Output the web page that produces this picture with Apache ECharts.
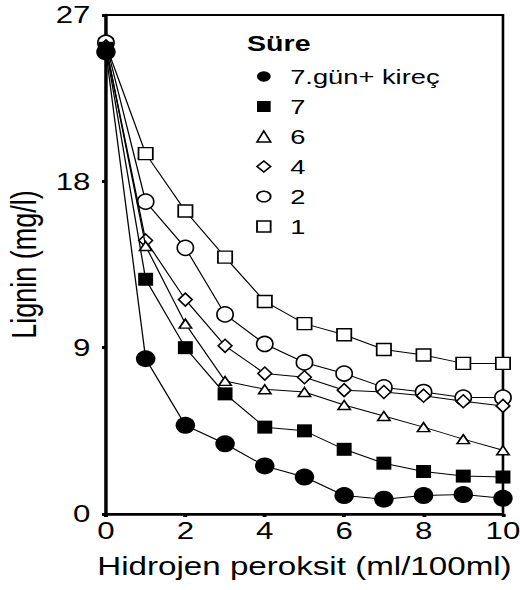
<!DOCTYPE html>
<html>
<head>
<meta charset="utf-8">
<script src="https://cdn.jsdelivr.net/npm/echarts@6/dist/echarts.min.js"></script>
<style>
  html, body { margin: 0; padding: 0; background: #fff; overflow: hidden; }
  /* the figure is drawn 400px wide and stretched horizontally to 520px */
  #chart { position: absolute; left: 0; top: 0; width: 400px; height: 590px;
           transform: scaleX(1.3); transform-origin: 0 0; }
</style>
</head>
<body>
<div id="chart"></div>
<script>
// Hydrogen peroxide dose (ml/100ml)
const peroxide = [0, 1, 2, 3, 4, 5, 6, 7, 8, 9, 10];

// Lignin (mg/l) per treatment time (Süre)
const day7Lime = [25.0, 8.4, 4.8, 3.8, 2.6, 2.0, 1.0, 0.8, 1.0, 1.05, 0.85];
const day7     = [25.2, 12.7, 9.0, 6.5, 4.7, 4.5, 3.5, 2.75, 2.3, 2.05, 2.0];
const day6     = [25.3, 14.5, 10.3, 7.2, 6.75, 6.6, 5.9, 5.3, 4.7, 4.05, 3.45];
const day4     = [25.3, 14.8, 11.6, 9.1, 7.6, 7.4, 6.7, 6.6, 6.4, 6.1, 5.85];
const day2     = [25.5, 16.9, 14.4, 10.8, 9.2, 8.2, 7.6, 6.85, 6.6, 6.3, 6.3];
const day1     = [25.4, 19.5, 16.4, 13.9, 11.5, 10.3, 9.7, 8.9, 8.6, 8.15, 8.15];

const seriesNames = ['7.gün+ kireç', '7', '6', '4', '2', '1'];
const xTicks = [0, 2, 4, 6, 8, 10];
const yTicks = [0, 9, 18, 27];

const FONT = '"Liberation Sans", Arial, sans-serif';

const pairs = vals => vals.map((v, i) => [peroxide[i], v]);

const filled = { color: '#000', borderColor: '#000', borderWidth: 0 };
const hollow = { color: '#fff', borderColor: '#000', borderWidth: 1.4 };

const markers = [
  { values: day7Lime, symbol: 'circle',   size: [15, 17], style: filled },
  { values: day7,     symbol: 'rect',     size: [11.5, 13], style: filled },
  { values: day6,     symbol: 'triangle', size: [9.5, 9], style: hollow },
  { values: day4,     symbol: 'diamond',  size: [10.5, 13], style: hollow },
  { values: day2,     symbol: 'circle',   size: [12.5, 15], style: hollow },
  { values: day1,     symbol: 'rect',     size: [11, 12], style: hollow }
];

const series = markers.map((m, i) => ({
  name: seriesNames[i],
  type: 'line',
  data: pairs(m.values),
  symbol: m.symbol,
  symbolSize: m.size,
  showAllSymbol: true,
  lineStyle: { color: '#000', width: 1 },
  itemStyle: m.style,
  emphasis: { disabled: true },
  z: 10 - i
}));

const chart = echarts.init(document.getElementById('chart'), null, { renderer: 'svg' });

chart.setOption({
  animation: false,
  backgroundColor: '#fff',
  title: {
    text: 'Süre',
    left: 190,
    top: 32,
    padding: 0,
    textStyle: { fontFamily: FONT, fontSize: 22, fontWeight: 'bold', color: '#000' }
  },
  legend: {
    orient: 'vertical',
    left: 197,
    top: 66,
    padding: 0,
    itemGap: 9,
    itemWidth: 10.5,
    itemHeight: 11,
    selectedMode: false,
    data: seriesNames.map((n, i) => ({
      name: n,
      icon: markers[i].symbol,
      itemStyle: markers[i].style
    })),
    textStyle: { fontFamily: FONT, fontSize: 21, color: '#000', lineHeight: 21, padding: [0, 0, 0, 10] }
  },
  grid: {
    left: 81.5, right: 13.1, top: 15, bottom: 76,
    outerBoundsMode: 'none',
    containLabel: false,
    show: true, borderColor: '#000', borderWidth: 2, backgroundColor: 'transparent'
  },
  xAxis: {
    type: 'value',
    min: 0, max: 10, interval: 2,
    name: 'Hidrojen peroksit (ml/100ml)',
    nameLocation: 'middle',
    nameGap: 39,
    nameTextStyle: { fontFamily: FONT, fontSize: 25.5, color: '#000' },
    axisLine: { show: true, onZero: false, lineStyle: { color: '#000', width: 2.5 } },
    axisTick: { show: true, length: 3, lineStyle: { color: '#000', width: 3 } },
    axisLabel: {
      fontFamily: FONT, fontSize: 24, color: '#000', margin: 5,
      formatter: v => xTicks.includes(v) ? String(v) : ''
    },
    splitLine: { show: false }
  },
  yAxis: {
    type: 'value',
    min: 0, max: 27, interval: 9,
    name: 'Lignin (mg/l)',
    nameLocation: 'middle',
    nameRotate: 90,
    nameGap: 43,
    nameTextStyle: { fontFamily: FONT, fontSize: 27, color: '#000' },
    axisLine: { show: true, onZero: false, lineStyle: { color: '#000', width: 2.5 } },
    axisTick: { show: true, length: 3, lineStyle: { color: '#000', width: 3 } },
    axisLabel: {
      fontFamily: FONT, fontSize: 24, color: '#000', margin: 12,
      formatter: v => yTicks.includes(v) ? String(v) : ''
    },
    splitLine: { show: false }
  },
  series: series
});
</script>
</body>
</html>
